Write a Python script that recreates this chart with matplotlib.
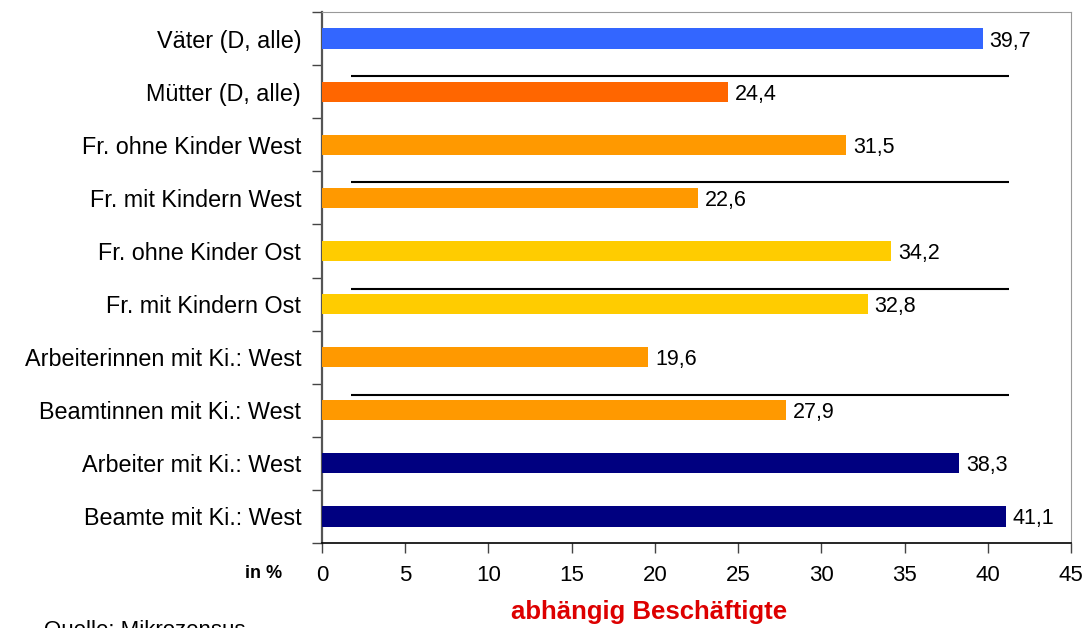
import matplotlib
matplotlib.use("Agg")
import matplotlib.pyplot as plt

plt.rcParams['font.family'] = ['Liberation Sans', 'DejaVu Sans']

categories = [
    "Väter (D, alle)",
    "Mütter (D, alle)",
    "Fr. ohne Kinder West",
    "Fr. mit Kindern West",
    "Fr. ohne Kinder Ost",
    "Fr. mit Kindern Ost",
    "Arbeiterinnen mit Ki.: West",
    "Beamtinnen mit Ki.: West",
    "Arbeiter mit Ki.: West",
    "Beamte mit Ki.: West",
]
values = [39.7, 24.4, 31.5, 22.6, 34.2, 32.8, 19.6, 27.9, 38.3, 41.1]
colors = ["#3366FF", "#FF6600", "#FF9900", "#FF9900", "#FFCC00",
          "#FFCC00", "#FF9900", "#FF9900", "#000080", "#000080"]
value_labels = ["39,7", "24,4", "31,5", "22,6", "34,2", "32,8", "19,6", "27,9", "38,3", "41,1"]
xticks = [0, 5, 10, 15, 20, 25, 30, 35, 40, 45]
# group separators sit just above these rows
separator_rows = [1, 3, 5, 7]

fig = plt.figure(figsize=(10.86, 6.28), dpi=100)
ax = fig.add_axes([322 / 1086, 1 - 543 / 628, (1071 - 322) / 1086, (543 - 12) / 628])

y = list(range(len(categories)))
ax.barh(y, values, height=0.38, color=colors, zorder=3)

for yi, v, lab in zip(y, values, value_labels):
    ax.text(v + 0.4, yi, lab, va='center_baseline', ha='left', fontsize=15.5, color='black')

for r in separator_rows:
    ax.plot([1.75, 41.3], [r - 0.29, r - 0.29], color='black', lw=1.5, zorder=4,
            solid_capstyle='butt')

ax.set_xlim(0, 45)
ax.set_ylim(9.5, -0.5)
ax.set_xticks(xticks)
ax.set_xticklabels([str(t) for t in xticks], fontsize=16)
ax.set_yticks([i - 0.5 for i in range(len(categories) + 1)], minor=False)
ax.set_yticklabels([])
ax.set_yticks(y, minor=True)
ax.set_yticklabels(categories, minor=True, fontsize=16.8)
ax.tick_params(axis='y', which='minor', length=0, pad=15)
ax.tick_params(axis='y', which='major', length=7, width=1, color='#444444', direction='out')
ax.tick_params(axis='x', length=7, width=1, color='#444444', direction='out', pad=9)

ax.spines['left'].set_color('#555555')
ax.spines['left'].set_linewidth(1.6)
ax.spines['bottom'].set_color('black')
ax.spines['bottom'].set_linewidth(1.2)
ax.spines['top'].set_color('#999999')
ax.spines['right'].set_color('#999999')

fig.text(264 / 1086, 1 - 573 / 628, "in %", fontsize=13, fontweight='bold',
         ha='center', va='center')
fig.text(649 / 1086, 1 - 612 / 628, "abhängig Beschäftigte", fontsize=18.5,
         fontweight='bold', color='#DD0000', ha='center', va='center')
fig.text(44 / 1086, 1 - 636 / 628, "Quelle: Mikrozensus", fontsize=16,
         ha='left', va='baseline')

fig.savefig("out.png", dpi=100)
